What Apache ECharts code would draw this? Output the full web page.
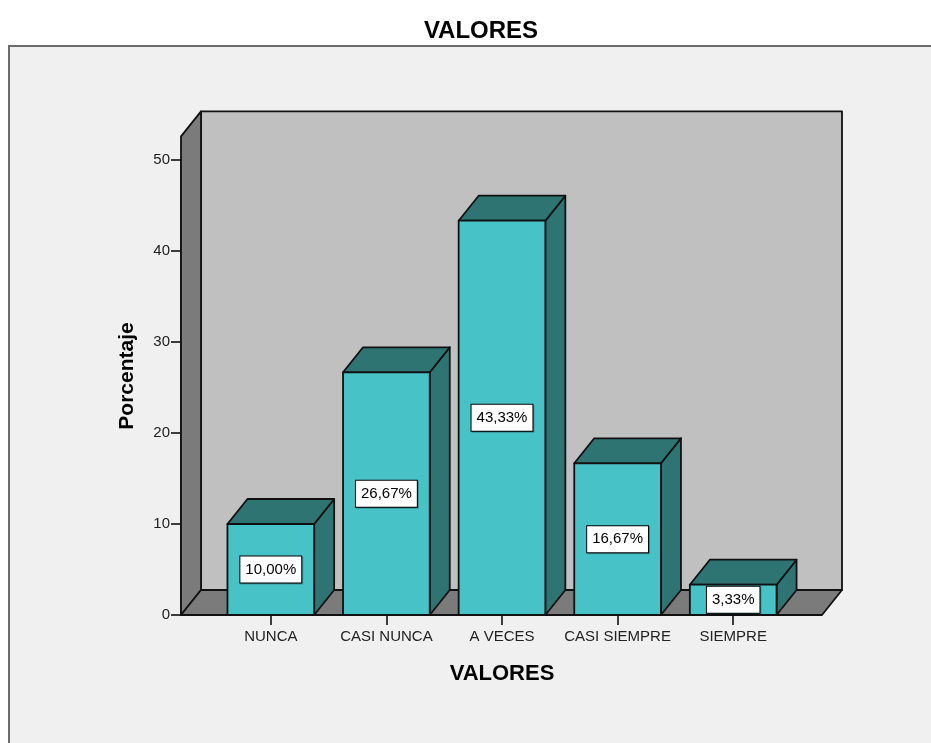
<!DOCTYPE html>
<html>
<head>
<meta charset="utf-8">
<script src="https://cdn.jsdelivr.net/npm/echarts@6/dist/echarts.min.js"></script>
<style>
  html, body { margin: 0; padding: 0; background: #ffffff; }
  #chart { width: 931px; height: 743px; }
</style>
</head>
<body>
<div id="chart"></div>
<script>
// Frequency table: VALORES
const categories = ['NUNCA', 'CASI NUNCA', 'A VECES', 'CASI SIEMPRE', 'SIEMPRE'];
const percentages = [10.00, 26.67, 43.33, 16.67, 3.33];
const yTicks = [0, 10, 20, 30, 40, 50];

// 3D look: depth offset of the extruded shapes, in pixels
const DEPTH_X = 20;
const DEPTH_Y = -25;
// The box (walls + floor) reaches a bit past the last tick and past the bands
const WALL_TOP_VALUE = 52.6;
const FLOOR_PAD_LEFT = 32;
const FLOOR_PAD_RIGHT = 31;

const FRONT = '#47c3c7';
const SHADE = '#2d7473';
const BACK_WALL = '#c0c0c0';
const SIDE_WALL = '#7b7b7b';
const EDGE = '#111111';
const FONT = '"Liberation Sans", Arial, sans-serif';

const chart = echarts.init(document.getElementById('chart'), null, { renderer: 'canvas' });

function pct(v) {
  return v.toFixed(2).replace('.', ',') + '%';
}

function renderBox(params, api) {
  const cs = params.coordSys;
  const x0 = cs.x - FLOOR_PAD_LEFT;
  const x1 = cs.x + cs.width + FLOOR_PAD_RIGHT;
  const yb = api.coord([0, 0])[1];
  const yt = api.coord([0, WALL_TOP_VALUE])[1];
  const line = { stroke: EDGE, lineWidth: 1.8, lineJoin: 'round' };
  return {
    type: 'group',
    children: [
      {
        type: 'polygon',
        shape: { points: [[x0 + DEPTH_X, yt + DEPTH_Y], [x1 + DEPTH_X, yt + DEPTH_Y], [x1 + DEPTH_X, yb + DEPTH_Y], [x0 + DEPTH_X, yb + DEPTH_Y]] },
        style: Object.assign({ fill: BACK_WALL }, line)
      },
      {
        type: 'polygon',
        shape: { points: [[x0, yb], [x0, yt], [x0 + DEPTH_X, yt + DEPTH_Y], [x0 + DEPTH_X, yb + DEPTH_Y]] },
        style: Object.assign({ fill: SIDE_WALL }, line)
      },
      {
        type: 'polygon',
        shape: { points: [[x0, yb], [x1, yb], [x1 + DEPTH_X, yb + DEPTH_Y], [x0 + DEPTH_X, yb + DEPTH_Y]] },
        style: Object.assign({ fill: SIDE_WALL }, line)
      }
    ]
  };
}

function renderBar(params, api) {
  const idx = api.value(0);
  const val = api.value(1);
  const top = api.coord([idx, val]);
  const base = api.coord([idx, 0]);
  const w = api.size([1, 0])[0] * 0.75;
  const xl = top[0] - w / 2;
  const xr = top[0] + w / 2;
  const yt = top[1];
  const yb = base[1];
  const line = { stroke: EDGE, lineWidth: 1.8, lineJoin: 'round' };
  return {
    type: 'group',
    children: [
      {
        type: 'polygon',
        shape: { points: [[xr, yt], [xr + DEPTH_X, yt + DEPTH_Y], [xr + DEPTH_X, yb + DEPTH_Y], [xr, yb]] },
        style: Object.assign({ fill: SHADE }, line)
      },
      {
        type: 'polygon',
        shape: { points: [[xl, yt], [xr, yt], [xr + DEPTH_X, yt + DEPTH_Y], [xl + DEPTH_X, yt + DEPTH_Y]] },
        style: Object.assign({ fill: SHADE }, line)
      },
      {
        type: 'rect',
        shape: { x: xl, y: yt, width: w, height: yb - yt },
        style: Object.assign({ fill: FRONT }, line)
      },
      {
        type: 'text',
        x: top[0],
        y: (yt + yb) / 2,
        style: {
          text: pct(val),
          font: '15px ' + FONT,
          fill: '#000',
          align: 'center',
          verticalAlign: 'middle',
          backgroundColor: '#ffffff',
          borderColor: '#000000',
          borderWidth: 1,
          padding: [6, 5, 5, 5],
          shadowColor: 'rgba(0,0,0,0.25)',
          shadowOffsetX: 1,
          shadowOffsetY: 1
        }
      }
    ]
  };
}

const option = {
  backgroundColor: '#ffffff',
  animation: false,
  title: {
    text: 'VALORES',
    left: 476,
    top: 14,
    textAlign: 'center',
    textStyle: { fontFamily: FONT, fontWeight: 'bold', fontSize: 24, color: '#000' }
  },
  graphic: [
    {
      type: 'rect',
      z: -10,
      shape: { x: 9, y: 46, width: 940, height: 720 },
      style: { fill: '#f0f0f0', stroke: '#6b6b6b', lineWidth: 2 }
    },
    {
      type: 'text',
      x: 127,
      y: 376,
      rotation: Math.PI / 2,
      style: {
        text: 'Porcentaje',
        font: 'bold 21px ' + FONT,
        fill: '#000',
        align: 'center',
        verticalAlign: 'middle'
      }
    }
  ],
  grid: { left: 213, right: 140, top: 160, bottom: 128, containLabel: false },
  xAxis: {
    type: 'category',
    data: categories,
    boundaryGap: true,
    name: 'VALORES',
    nameLocation: 'middle',
    nameGap: 48,
    nameTextStyle: { fontFamily: FONT, fontWeight: 'bold', fontSize: 22, color: '#000' },
    axisLine: { show: false },
    axisTick: { show: true, alignWithLabel: true, interval: 0, length: 10, lineStyle: { color: '#000', width: 1.5 } },
    axisLabel: { interval: 0, margin: 14, fontFamily: FONT, fontSize: 15, color: '#222' },
    splitLine: { show: false }
  },
  yAxis: {
    type: 'value',
    min: yTicks[0],
    max: yTicks[yTicks.length - 1],
    interval: yTicks[1] - yTicks[0],
    offset: 32,
    axisLine: { show: true, lineStyle: { color: '#000', width: 1.8 } },
    axisTick: { show: true, length: 10, lineStyle: { color: '#000', width: 1.5 } },
    axisLabel: { margin: 11, fontFamily: FONT, fontSize: 15, color: '#222' },
    splitLine: { show: false }
  },
  series: [
    {
      type: 'custom',
      name: 'box',
      z: 1,
      silent: true,
      renderItem: renderBox,
      data: [[0, 0]]
    },
    {
      type: 'custom',
      name: 'Porcentaje',
      z: 5,
      renderItem: renderBar,
      encode: { x: 0, y: 1 },
      data: percentages.map((v, i) => [i, v])
    }
  ]
};

chart.setOption(option);
</script>
</body>
</html>
